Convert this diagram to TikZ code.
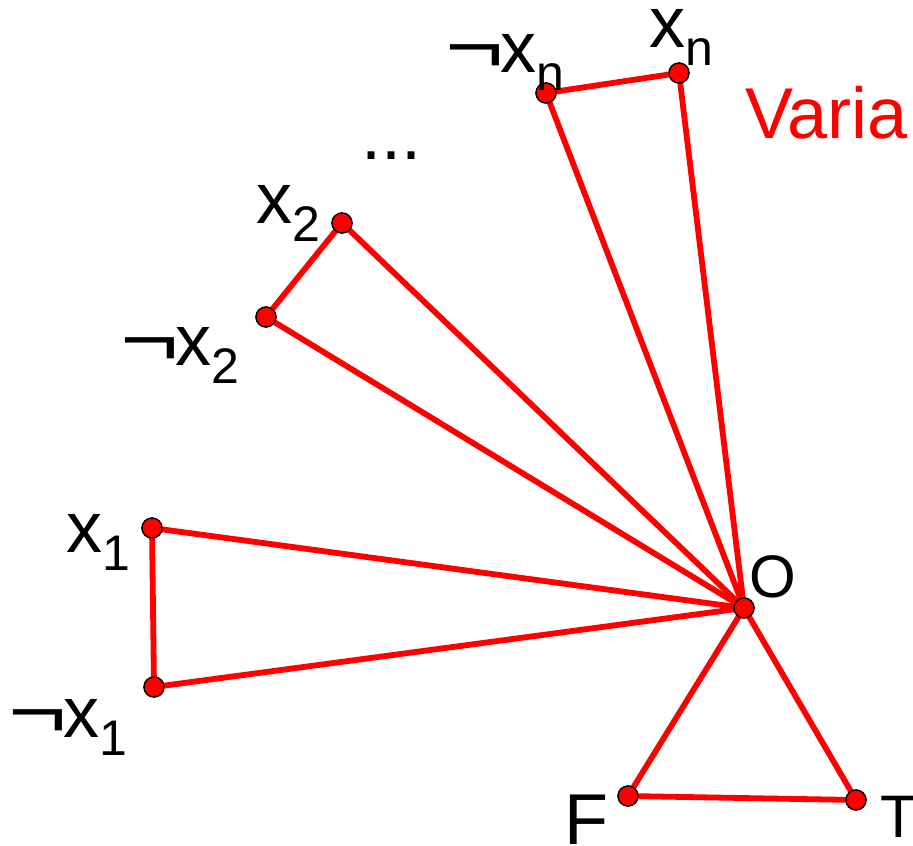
\documentclass[tikz,border=0pt]{standalone}
\usepackage{fontspec}
\usepackage{graphicx}
\setmainfont{Liberation Sans}
\newcommand{\lneg}{\scalebox{1.4}[1.05]{¬}\kern-3.5pt}
\newcommand{\lsub}[1]{\raisebox{-18pt}{\fontsize{50pt}{50pt}\selectfont #1}}
\tikzset{
  vtx/.style={circle, fill=red, draw=black, line width=1.3pt, minimum size=20pt, inner sep=0pt},
  edge/.style={draw=red, line width=5.8pt, line cap=round},
  lab/.style={anchor=base west, inner sep=0pt, outer sep=0pt, font=\fontsize{72pt}{72pt}\selectfont},
  labs/.style={anchor=base west, inner sep=0pt, outer sep=0pt, font=\fontsize{60pt}{60pt}\selectfont}
}
\begin{document}
\begin{tikzpicture}[x=1pt,y=-1pt]
\useasboundingbox (0,0) rectangle (913,846);
% vertices
\node[vtx] (xn) at (679,73) {};
\node[vtx] (nxn) at (546,93) {};
\node[vtx] (x2) at (342,223) {};
\node[vtx] (nx2) at (266,317) {};
\node[vtx] (x1) at (152,528) {};
\node[vtx] (nx1) at (154,687) {};
\node[vtx] (O) at (744,608) {};
\node[vtx] (F) at (628,796) {};
\node[vtx] (T) at (856,800) {};
% edges
\foreach \a/\b in {xn/nxn, nxn/O, xn/O, x2/nx2, x2/O, nx2/O, x1/nx1, x1/O, nx1/O, O/F, O/T, F/T}
  \draw[edge] (\a.center) -- (\b.center);
% redraw vertices on top of the edges
\foreach \v in {xn,nxn,x2,nx2,x1,nx1,O,F,T}
  \draw[fill=red, draw=black, line width=1.3pt] (\v.center) circle (10pt);
% labels
\node[lab] (lxn) at (649,47) {x\lsub{n}};
\node[lab] (lnxn) at (445.5,72) {\lneg x\lsub{n}};
\node[lab] (lx2) at (256,223) {x\lsub{2}};
\node[lab] (lnx2) at (120.5,365) {\lneg x\lsub{2}};
\node[lab] (lx1) at (66,552) {x\lsub{1}};
\node[lab] (lnx1) at (8.5,737) {\lneg x\lsub{1}};
\node[lab] (dots) at (361,159) {...};
\node[lab, text=red] (vars) at (745,138) {Varia};
\node[labs] (lO) at (749,597) {O};
\node[lab] (lF) at (564,844) {F};
\node[labs] (lT) at (880,837) {T};
\end{tikzpicture}
\end{document}
